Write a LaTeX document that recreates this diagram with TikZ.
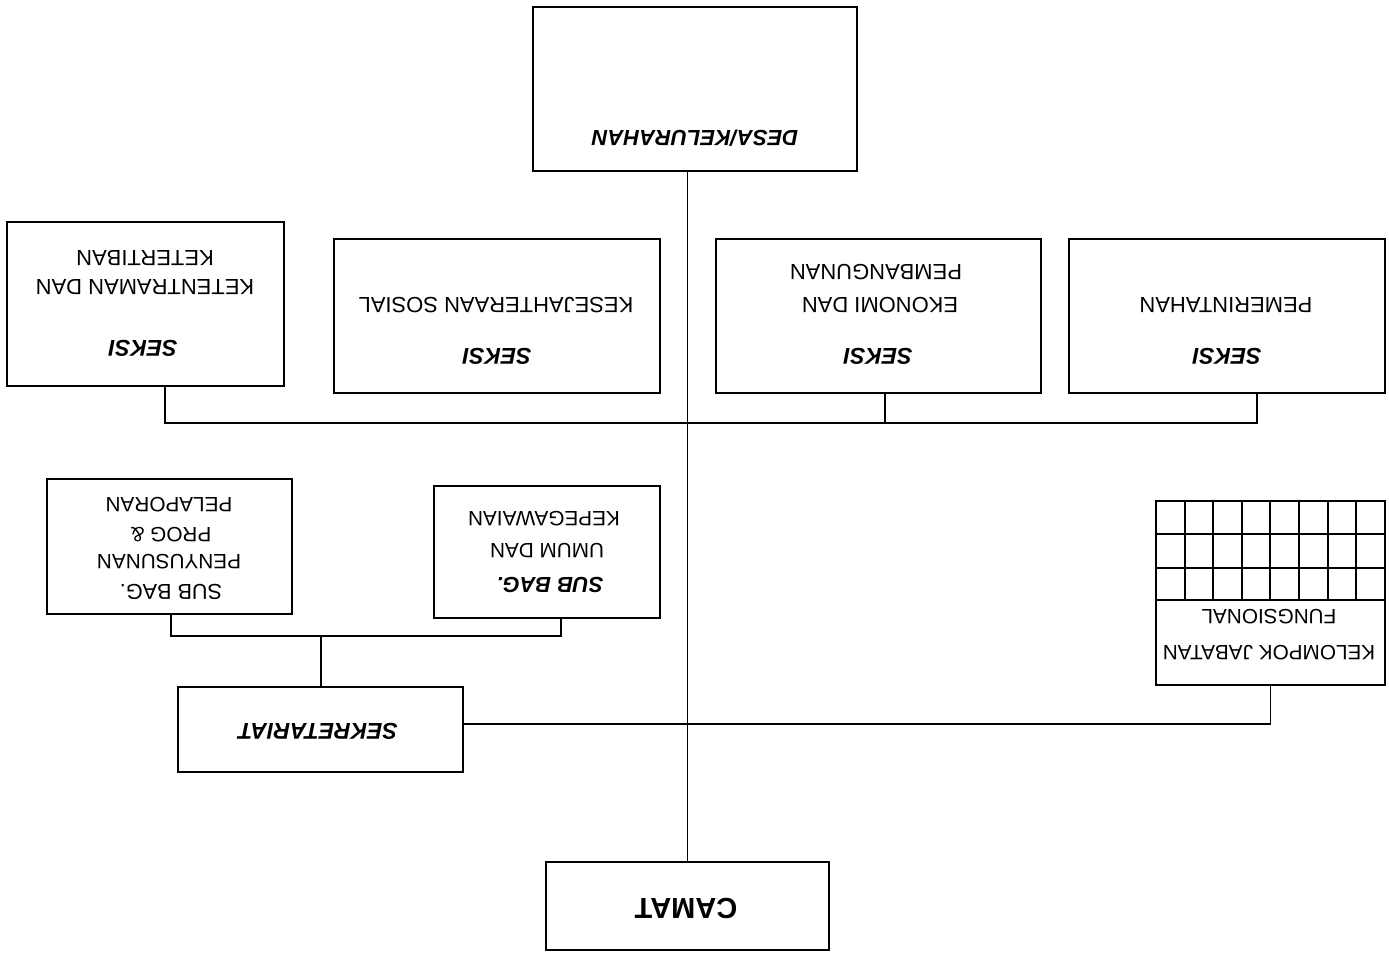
\documentclass[tikz,border=0pt]{standalone}
\usepackage{fontspec}
\setmainfont{Liberation Sans}
\begin{document}
\begin{tikzpicture}[x=0.02cm,y=-0.02cm,
  box/.style={draw, line width=1.2pt, inner sep=0pt},
  conn/.style={line width=1.1pt},
  txt/.style={rotate=180, inner sep=0pt, font=\fontsize{12.5}{14}\selectfont},
  stxt/.style={rotate=180, inner sep=0pt, font=\fontsize{11.8}{14}\selectfont},
  btxt/.style={rotate=180, inner sep=0pt, font=\fontsize{13}{15}\selectfont\bfseries\itshape}]
\useasboundingbox (0,0) rectangle (1389,957);
% boxes
\node[box, minimum width=6.48cm, minimum height=3.28cm] (desa) at (695,89) {};
\node[box, minimum width=5.54cm, minimum height=3.28cm] (ket) at (145.5,304) {};
\node[box, minimum width=6.52cm, minimum height=3.08cm] (kes) at (497,316) {};
\node[box, minimum width=6.50cm, minimum height=3.08cm] (eko) at (878.5,316) {};
\node[box, minimum width=6.32cm, minimum height=3.08cm] (pem) at (1227,316) {};
\node[box, minimum width=4.58cm, minimum height=3.68cm] (kel) at (1270.5,593) {};
\node[box, minimum width=4.90cm, minimum height=2.70cm] (pen) at (169.5,546.5) {};
\node[box, minimum width=4.52cm, minimum height=2.64cm] (umum) at (547,552) {};
\node[box, minimum width=5.70cm, minimum height=1.70cm] (sek) at (320.5,729.5) {};
\node[box, minimum width=5.66cm, minimum height=1.76cm] (camat) at (687.5,906) {};
% grid in kelompok
\foreach \yy in {534,568,600} \draw[line width=1.2pt] (1156,\yy) -- (1385,\yy);
\foreach \i in {1,...,7} \draw[line width=1.2pt] ({1156+\i*28.6},501) -- ({1156+\i*28.6},600);
% texts
\node[btxt, font=\fontsize{12.5}{15}\selectfont\bfseries\itshape] (tdesa) at (695,138) {DESA/KELURAHAN};
\node[txt] (tket2) at (145,258) {KETERTIBAN};
\node[txt] (tket1) at (145,287) {KETENTRAMAN DAN};
\node[btxt] (tket0) at (143,348) {SEKSI};
\node[txt] (tkes1) at (496,305) {KESEJAHTERAAN SOSIAL};
\node[btxt] (tkes0) at (497,356) {SEKSI};
\node[txt] (teko2) at (876,272) {PEMBANGUNAN};
\node[txt] (teko1) at (880,305) {EKONOMI DAN};
\node[btxt] (teko0) at (878,356) {SEKSI};
\node[txt] (tpem1) at (1226,305) {PEMERINTAHAN};
\node[btxt] (tpem0) at (1227,356) {SEKSI};
\node[stxt] (tkel1) at (1269,653) {KELOMPOK JABATAN};
\node[stxt] (tkel2) at (1269,617) {FUNGSIONAL};
\node[stxt, font=\fontsize{12.3}{14}\selectfont] (tpen0) at (171,592) {SUB BAG.};
\node[stxt] (tpen1) at (169,562) {PENYUSUNAN};
\node[stxt] (tpen2) at (171,535) {PROG \&};
\node[stxt] (tpen3) at (169,505) {PELAPORAN};
\node[btxt, font=\fontsize{12.4}{15}\selectfont\bfseries\itshape] (tum0) at (550,585) {SUB BAG.};
\node[stxt] (tum1) at (547,551) {UMUM DAN};
\node[stxt] (tum2) at (544,519) {KEPEGAWAIAN};
\node[btxt] (tsek) at (318,731) {SEKRETARIAT};
\node[rotate=180, inner sep=0pt, font=\fontsize{16.5}{18}\selectfont\bfseries] (tcam) at (686,908) {CAMAT};
% connectors
\draw[conn] (camat.north) -- (camat.north |- desa.south);
\coordinate (b1) at (165,423);
\coordinate (b3) at (885,423);
\coordinate (b4) at (1257,423);
\draw[conn] (b1 |- ket.south) -- (b1) -- (b4) -- (b4 |- pem.south);
\draw[conn] (b3) -- (b3 |- eko.south);
\coordinate (s1) at (171,636);
\coordinate (s2) at (561,636);
\coordinate (s0) at (321,636);
\draw[conn] (s1 |- pen.south) -- (s1) -- (s2) -- (s2 |- umum.south);
\draw[conn] (s0) -- (s0 |- sek.north);
\coordinate (k1) at (1270.5,724);
\draw[conn] (k1 -| sek.east) -- (k1) -- (kel.south);
\end{tikzpicture}
\end{document}
